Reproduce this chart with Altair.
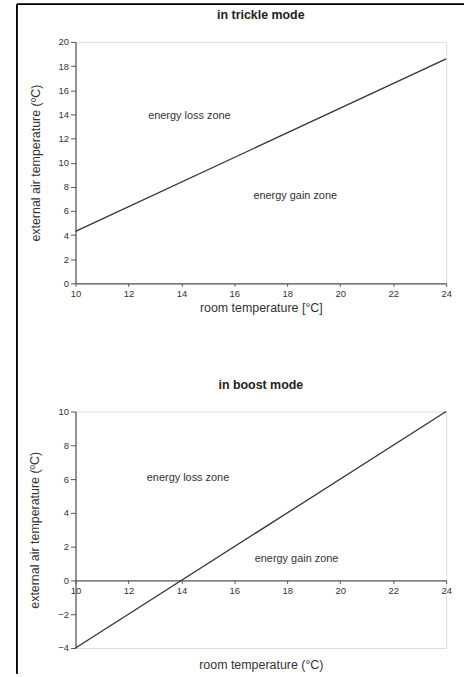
import altair as alt
import pandas as pd

# ---- data ----
trickle_room = [10, 24]
trickle_ext = [4.3, 18.6]
boost_room = [10, 24]
boost_ext = [-4, 10]

trickle_ticks_y = [0, 2, 4, 6, 8, 10, 12, 14, 16, 18, 20]
boost_ticks_y = [-4, -2, 0, 2, 4, 6, 8, 10]
ticks_x = [10, 12, 14, 16, 18, 20, 22, 24]

zone_labels = ["energy loss zone", "energy gain zone"]
trickle_zone_x = [14.3, 18.3]
trickle_zone_y = [13.9, 7.2]
boost_zone_x = [14.25, 18.35]
boost_zone_y = [6.06, 1.24]

FONT = "Liberation Sans"
INK = "#333333"
FRAME = "#555555"

df_t = pd.DataFrame({"room": trickle_room, "ext": trickle_ext})
df_b = pd.DataFrame({"room": boost_room, "ext": boost_ext})
zt = pd.DataFrame({"label": zone_labels, "room": trickle_zone_x, "ext": trickle_zone_y})
zb = pd.DataFrame({"label": zone_labels, "room": boost_zone_x, "ext": boost_zone_y})

W = 373
H1 = 243
H2 = 238

xscale = alt.Scale(domain=[10, 24], nice=False, zero=False)
yscale_t = alt.Scale(domain=[0, 20], nice=False, zero=False)
yscale_b = alt.Scale(domain=[-4, 10], nice=False, zero=False)


def xaxis(title, offset=0, pad=4):
    return alt.Axis(values=ticks_x, title=title, grid=False, tickSize=3,
                    labelFontSize=9.5, labelColor=INK, titleFontSize=12.5,
                    titleFontWeight="normal", titleColor=INK, titleFont=FONT,
                    labelFont=FONT, domainColor=FRAME, tickColor=FRAME,
                    domainWidth=1.2, offset=offset, titlePadding=pad,
                    labelPadding=2, labelOverlap=False, labelFlush=False)


def yaxis(values, title):
    return alt.Axis(values=values, title=title, grid=False, tickSize=5,
                    labelFontSize=9.5, labelColor=INK, titleFontSize=12.5,
                    titleFontWeight="normal", titleColor=INK, titleFont=FONT,
                    labelFont=FONT, domainColor=FRAME, tickColor=FRAME,
                    domainWidth=1.2, titlePadding=16, labelPadding=2,
                    labelOverlap=False, labelFlush=False)


ax_xt = xaxis("room temperature [°C]", 0, 4)
ax_yt = yaxis(trickle_ticks_y, "external air temperature (ºC)")
ax_xb = xaxis("room temperature (°C)", -68, 64)
ax_yb = yaxis(boost_ticks_y, "external air temperature (ºC)")

# ---- top chart ----
top_line = alt.Chart(df_t).mark_line(color=INK, strokeWidth=1.3).encode(
    x=alt.X("room:Q", scale=xscale, axis=ax_xt),
    y=alt.Y("ext:Q", scale=yscale_t, axis=ax_yt),
)
top_text = alt.Chart(zt).mark_text(font=FONT, fontSize=11, color=INK).encode(
    x=alt.X("room:Q", scale=xscale, axis=ax_xt),
    y=alt.Y("ext:Q", scale=yscale_t, axis=ax_yt),
    text="label:N")

# outer frame of the figure (decoration)
frame_v = alt.Chart(df_t).mark_rule(color="black", strokeWidth=1.5).encode(
    x=alt.value(-59), y=alt.value(-38), y2=alt.value(636))
frame_h = alt.Chart(df_t).mark_rule(color="black", strokeWidth=1.5).encode(
    x=alt.value(-59), x2=alt.value(391), y=alt.value(-38))

top = alt.layer(frame_v, frame_h, top_line, top_text).properties(
    width=W, height=H1,
    title=alt.TitleParams("in trickle mode", fontSize=12.5, fontWeight="bold",
                          font=FONT, color="#222222", offset=-18, anchor="middle",
                          frame="group"),
)

# ---- bottom chart ----
bot_line = alt.Chart(df_b).mark_line(color=INK, strokeWidth=1.3).encode(
    x=alt.X("room:Q", scale=xscale, axis=ax_xb),
    y=alt.Y("ext:Q", scale=yscale_b, axis=ax_yb),
)
bot_text = alt.Chart(zb).mark_text(font=FONT, fontSize=11, color=INK).encode(
    x=alt.X("room:Q", scale=xscale, axis=ax_xb),
    y=alt.Y("ext:Q", scale=yscale_b, axis=ax_yb),
    text="label:N")

bottom = alt.layer(bot_line, bot_text).properties(
    width=W, height=H2,
    title=alt.TitleParams("in boost mode", fontSize=12.5, fontWeight="bold",
                          font=FONT, color="#222222", offset=15, anchor="middle",
                          frame="group"),
)

chart = alt.vconcat(top, bottom, spacing=129, bounds="flush").properties(
    padding={"left": 15, "top": 0, "right": 0, "bottom": 0},
).configure_view(stroke=FRAME, strokeWidth=1.5).configure(background="white")

chart.save("out.html", embed_options={"renderer": "svg", "actions": False})
